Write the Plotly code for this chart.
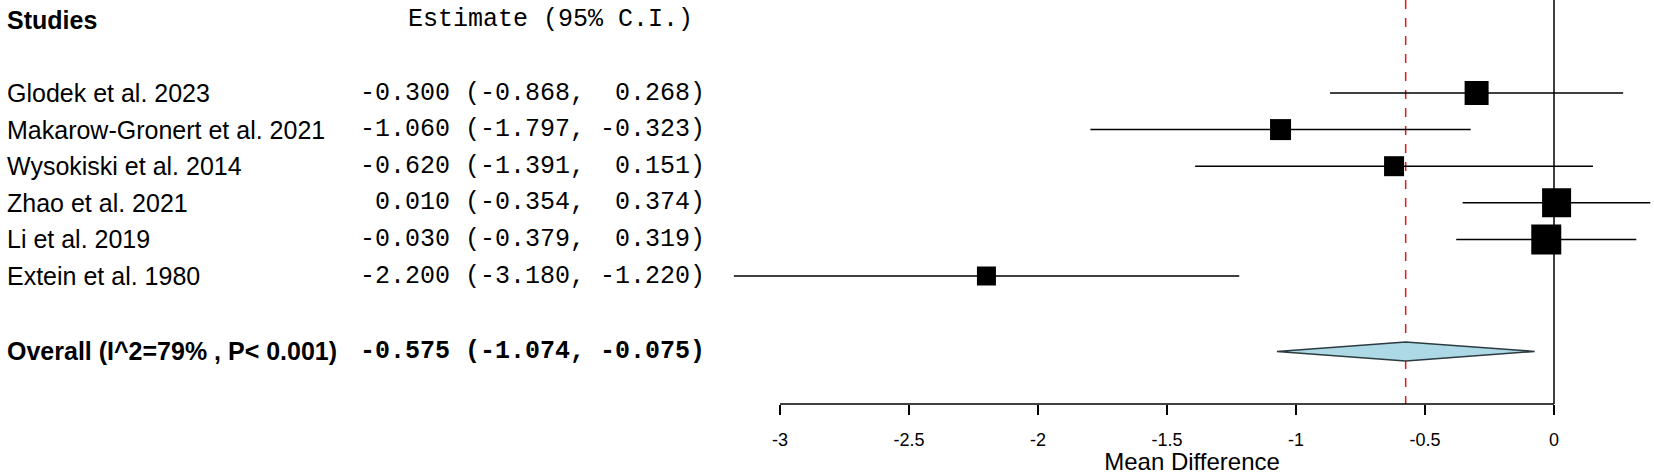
import plotly.graph_objects as go

studies = ["Glodek et al. 2023", "Makarow-Gronert et al. 2021", "Wysokiski et al. 2014",
           "Zhao et al. 2021", "Li et al. 2019", "Extein et al. 1980"]
estimates = [-0.300, -1.060, -0.620, 0.010, -0.030, -2.200]
ci_low = [-0.868, -1.797, -1.391, -0.354, -0.379, -3.180]
ci_high = [0.268, -0.323, 0.151, 0.374, 0.319, -1.220]
box_sizes = [24, 21, 20, 29, 30, 19]

overall_label = "Overall (I^2=79% , P< 0.001)"
overall_est = -0.575
overall_low = -1.074
overall_high = -0.075

tick_vals = [-3, -2.5, -2, -1.5, -1, -0.5, 0]
tick_text = ["-3", "-2.5", "-2", "-1.5", "-1", "-0.5", "0"]

W, H = 1654, 475
row0_px, row_step = 93.0, 36.6
y_top = -row0_px / row_step
y_bot = (H - row0_px) / row_step
axis_row = (404 - row0_px) / row_step
overall_row = 7.06
study_rows = list(range(len(studies)))

fig = go.Figure()

# vertical reference lines
fig.add_trace(go.Scatter(x=[0, 0], y=[y_top, axis_row], mode="lines",
                         line=dict(color="black", width=1.5), hoverinfo="skip", showlegend=False))
fig.add_trace(go.Scatter(x=[overall_est, overall_est], y=[y_top, axis_row], mode="lines",
                         line=dict(color="#e8191c", width=1.5, dash="dash"), hoverinfo="skip", showlegend=False))

# CI lines
for r, lo, hi in zip(study_rows, ci_low, ci_high):
    fig.add_trace(go.Scatter(x=[lo, hi], y=[r, r], mode="lines",
                             line=dict(color="black", width=1.5), hoverinfo="skip", showlegend=False))

# squares
fig.add_trace(go.Scatter(x=estimates, y=study_rows, mode="markers", opacity=1,
                         marker=dict(symbol="square", size=box_sizes, color="#000000", opacity=1,
                                     line=dict(width=0, color="#000000")),
                         hoverinfo="skip", showlegend=False))

# diamond
dh = 0.26
fig.add_trace(go.Scatter(x=[overall_low, overall_est, overall_high, overall_est, overall_low],
                         y=[overall_row, overall_row - dh, overall_row, overall_row + dh, overall_row],
                         mode="lines", fill="toself", fillcolor="#ADD8E6",
                         line=dict(color="#2b3b3f", width=1.5), hoverinfo="skip", showlegend=False))

# x axis line from -3 to 0
fig.add_trace(go.Scatter(x=[tick_vals[0], tick_vals[-1]], y=[axis_row, axis_row], mode="lines",
                         line=dict(color="black", width=1.5), hoverinfo="skip", showlegend=False))

sans = "Liberation Sans, Arial, sans-serif"
mono = "Liberation Mono, Courier New, monospace"

def nb(s):
    return s.replace(" ", "\u00a0")

ann = []
ann.append(dict(x=5 / W, xref="paper", y=-2, yref="y", text="<b>Studies</b>", showarrow=False,
                xanchor="left", yanchor="middle", font=dict(family=sans, size=25, color="black")))
ann.append(dict(x=406 / W, xref="paper", y=-2, yref="y", text=nb("Estimate (95% C.I.)"), showarrow=False,
                xanchor="left", yanchor="middle", font=dict(family=mono, size=25, color="black")))
for r, name, e, lo, hi in zip(study_rows, studies, estimates, ci_low, ci_high):
    ann.append(dict(x=5 / W, xref="paper", y=r, yref="y", text=name, showarrow=False,
                    xanchor="left", yanchor="middle", font=dict(family=sans, size=25, color="black")))
    s = f"{e:6.3f} ({lo:6.3f}, {hi:6.3f})"
    ann.append(dict(x=707 / W, xref="paper", y=r, yref="y", text=nb(s), showarrow=False,
                    xanchor="right", yanchor="middle", font=dict(family=mono, size=25, color="black")))
ann.append(dict(x=5 / W, xref="paper", y=overall_row, yref="y", text="<b>" + overall_label + "</b>",
                showarrow=False, xanchor="left", yanchor="middle",
                font=dict(family=sans, size=25, color="black")))
so = f"{overall_est:6.3f} ({overall_low:6.3f}, {overall_high:6.3f})"
ann.append(dict(x=707 / W, xref="paper", y=overall_row, yref="y", text="<b>" + nb(so) + "</b>",
                showarrow=False, xanchor="right", yanchor="middle",
                font=dict(family=mono, size=25, color="black")))

x0_px, x1_px = 733.6, 1650.5
fig.update_layout(
    width=W, height=H, margin=dict(l=0, r=0, t=0, b=0),
    paper_bgcolor="white", plot_bgcolor="white",
    annotations=ann,
    xaxis=dict(domain=[x0_px / W, x1_px / W], range=[ci_low[5], ci_high[3]],
               showgrid=False, zeroline=False, showline=False,
               tickvals=tick_vals, ticktext=tick_text, ticks="outside", ticklen=10,
               tickcolor="black", tickwidth=1.2,
               tickfont=dict(family=sans, size=18, color="black"), ticklabelstandoff=9,
               anchor="free", position=1 - 404 / H,
               title=dict(text="Mean Difference", font=dict(family=sans, size=24, color="black"), standoff=9)),
    yaxis=dict(domain=[0, 1], range=[y_bot, y_top], showgrid=False, zeroline=False,
               showline=False, showticklabels=False, ticks=""),
)

fig.write_html("out.html", config={"displayModeBar": False, "staticPlot": True},
               post_script="document.body.style.margin='0';document.body.style.overflow='hidden';")
